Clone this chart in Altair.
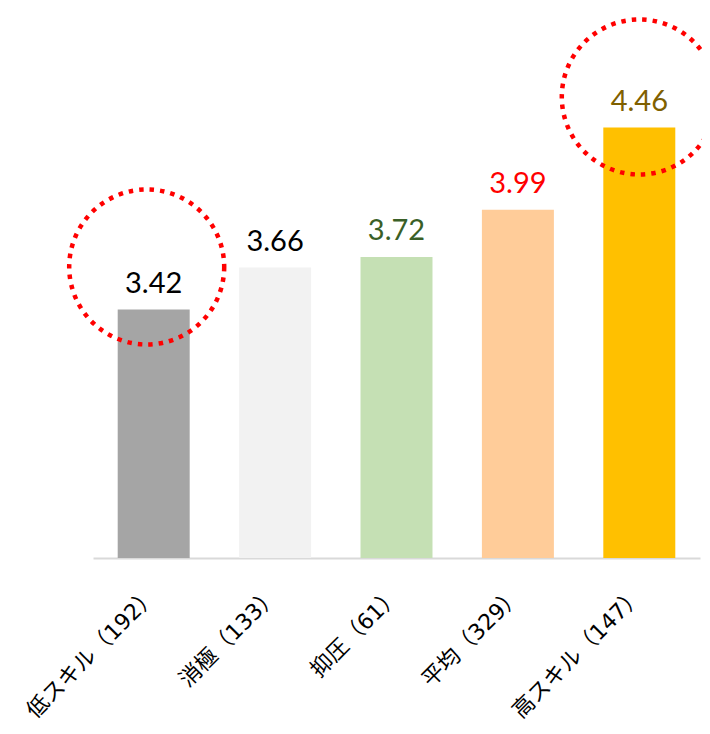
import altair as alt
import pandas as pd

categories = ["低スキル（192）", "消極（133）", "抑圧（61）", "平均（329）", "高スキル（147）"]
values = [3.42, 3.66, 3.72, 3.99, 4.46]
bar_colors = ["#A5A5A5", "#F2F2F2", "#C5E0B4", "#FFCC99", "#FFC000"]
label_colors = ["#000000", "#000000", "#3A5F27", "#FF0000", "#7F6000"]
highlighted = ["低スキル（192）", "高スキル（147）"]

df = pd.DataFrame({"category": categories, "value": values})

x = alt.X("category:N", sort=categories,
          scale=alt.Scale(paddingInner=0.407, paddingOuter=0.2035),
          axis=alt.Axis(title=None, labelAngle=-45, labelAlign="right", labelBaseline="middle",
                        labelPadding=33, labelFont="DejaVu Sans, Noto Sans CJK JP", labelFontSize=22,
                        labelLimit=0, labelOverlap=False,
                        labelColor="#000000", ticks=False, domainColor="#D9D9D9", domainWidth=2))
y = alt.Y("value:Q", scale=alt.Scale(domain=[2, 5], zero=False, nice=False), axis=None)

base = alt.Chart(df)

bars = base.mark_bar().encode(
    x=x, y=y, y2=alt.datum(2),
    color=alt.Color("category:N", scale=alt.Scale(domain=categories, range=bar_colors), legend=None),
)

labels = base.mark_text(dy=-17, baseline="alphabetic", font="Lato", fontSize=29).encode(
    x=alt.X("category:N", sort=categories), y=y,
    text=alt.Text("value:Q", format=".2f"),
    color=alt.Color("category:N", scale=alt.Scale(domain=categories, range=label_colors), legend=None),
)

ring_style = dict(shape="circle", filled=False, stroke="#FF0000", strokeWidth=4.5,
                  strokeDash=[4.5, 6], size=24025, opacity=1)
ring1 = base.transform_filter(alt.datum.category == highlighted[0]).mark_point(
    xOffset=-7, yOffset=-42.5, **ring_style).encode(x=alt.X("category:N", sort=categories), y=y)
ring2 = base.transform_filter(alt.datum.category == highlighted[1]).mark_point(
    xOffset=0, yOffset=-30.5, **ring_style).encode(x=alt.X("category:N", sort=categories), y=y)

chart = alt.layer(bars, labels, ring1, ring2).resolve_scale(color="independent").properties(
    width=607, height=525,
    autosize=alt.AutoSizeParams(type="none"),
    padding={"left": 85, "top": 25, "right": 2, "bottom": 166},
).configure_view(stroke=None)

chart.save("out.html", embed_options={"renderer": "svg", "actions": False})
